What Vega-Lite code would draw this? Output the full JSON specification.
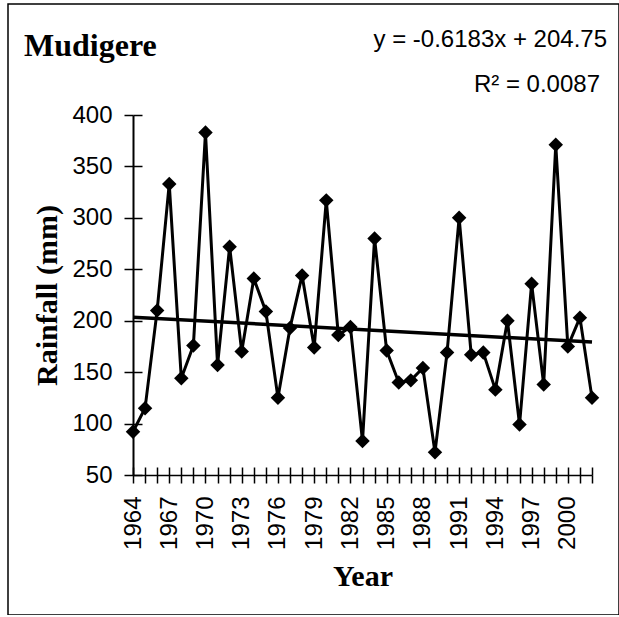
{
  "$schema": "https://vega.github.io/schema/vega-lite/v6.json",
  "autosize": {"type": "none"},
  "padding": {"left": 8, "top": 4, "right": 0, "bottom": 0},
  "width": 611,
  "height": 611,
  "background": "white",
  "config": {
    "view": {"stroke": "black", "strokeWidth": 1.5},
    "axis": {
      "grid": false,
      "domainColor": "black",
      "domainWidth": 2,
      "tickColor": "black",
      "tickWidth": 1.5,
      "labelColor": "black",
      "labelFont": "Liberation Sans",
      "labelFontSize": 24,
      "titleColor": "black",
      "titleFont": "Liberation Serif",
      "titleFontWeight": "bold",
      "titleFontSize": 30
    }
  },
  "title": {
    "text": "Mudigere",
    "anchor": "start",
    "frame": "group",
    "offset": -84,
    "dx": 16,
    "font": "Liberation Serif",
    "fontSize": 32,
    "fontWeight": "bold",
    "color": "black",
    "baseline": "alphabetic"
  },
  "data": {
    "values": [
      {"Year": 1964, "Rainfall": 92},
      {"Year": 1965, "Rainfall": 115},
      {"Year": 1966, "Rainfall": 210},
      {"Year": 1967, "Rainfall": 333},
      {"Year": 1968, "Rainfall": 144},
      {"Year": 1969, "Rainfall": 176},
      {"Year": 1970, "Rainfall": 383},
      {"Year": 1971, "Rainfall": 157},
      {"Year": 1972, "Rainfall": 272},
      {"Year": 1973, "Rainfall": 170},
      {"Year": 1974, "Rainfall": 241},
      {"Year": 1975, "Rainfall": 209},
      {"Year": 1976, "Rainfall": 125},
      {"Year": 1977, "Rainfall": 193},
      {"Year": 1978, "Rainfall": 244},
      {"Year": 1979, "Rainfall": 174},
      {"Year": 1980, "Rainfall": 317},
      {"Year": 1981, "Rainfall": 186},
      {"Year": 1982, "Rainfall": 194},
      {"Year": 1983, "Rainfall": 83},
      {"Year": 1984, "Rainfall": 280},
      {"Year": 1985, "Rainfall": 171},
      {"Year": 1986, "Rainfall": 140},
      {"Year": 1987, "Rainfall": 142},
      {"Year": 1988, "Rainfall": 154},
      {"Year": 1989, "Rainfall": 72},
      {"Year": 1990, "Rainfall": 169},
      {"Year": 1991, "Rainfall": 300},
      {"Year": 1992, "Rainfall": 167},
      {"Year": 1993, "Rainfall": 169},
      {"Year": 1994, "Rainfall": 133},
      {"Year": 1995, "Rainfall": 200},
      {"Year": 1996, "Rainfall": 99},
      {"Year": 1997, "Rainfall": 236},
      {"Year": 1998, "Rainfall": 138},
      {"Year": 1999, "Rainfall": 371},
      {"Year": 2000, "Rainfall": 175},
      {"Year": 2001, "Rainfall": 203},
      {"Year": 2002, "Rainfall": 125}
    ]
  },
  "layer": [
    {
      "mark": {"type": "line", "interpolate": "linear", "color": "black", "strokeWidth": 3},
      "encoding": {
        "x": {
          "field": "Year", "type": "quantitative",
          "scale": {"domain": [1964, 2002], "range": [125, 584], "nice": false, "zero": false},
          "axis": {
            "orient": "bottom", "offset": -140, "title": "Year", "titlePadding": 12,
            "values": [1964,1965,1966,1967,1968,1969,1970,1971,1972,1973,1974,1975,1976,1977,1978,1979,1980,1981,1982,1983,1984,1985,1986,1987,1988,1989,1990,1991,1992,1993,1994,1995,1996,1997,1998,1999,2000,2001,2002],
            "labelExpr": "(datum.value - 1964) % 3 == 0 && datum.value <= 2000 ? datum.value + '' : ''",
            "labelAngle": -90, "labelOverlap": false, "labelFlush": false,
            "tickSize": 8, "labelPadding": 13, "domainWidth": 1.5
          }
        },
        "y": {
          "field": "Rainfall", "type": "quantitative",
          "scale": {"domain": [50, 400], "range": [471, 111], "nice": false, "zero": false},
          "axis": {
            "orient": "left", "offset": -125, "title": "Rainfall (mm)", "titlePadding": 9,
            "values": [50, 100, 150, 200, 250, 300, 350, 400],
            "tickSize": 9, "labelPadding": 12, "labelFlush": false, "labelOverlap": false
          }
        }
      }
    },
    {
      "mark": {"type": "point", "shape": "diamond", "filled": true, "color": "black", "opacity": 1, "size": 210},
      "encoding": {
        "x": {
          "field": "Year", "type": "quantitative",
          "scale": {"domain": [1964, 2002], "range": [125, 584], "nice": false, "zero": false},
          "axis": {
            "orient": "top", "offset": -471, "title": null, "labels": false, "domain": false,
            "values": [1964,1965,1966,1967,1968,1969,1970,1971,1972,1973,1974,1975,1976,1977,1978,1979,1980,1981,1982,1983,1984,1985,1986,1987,1988,1989,1990,1991,1992,1993,1994,1995,1996,1997,1998,1999,2000,2001,2002],
            "tickSize": 8
          }
        },
        "y": {
          "field": "Rainfall", "type": "quantitative",
          "scale": {"domain": [50, 400], "range": [471, 111], "nice": false, "zero": false},
          "axis": {
            "orient": "right", "offset": -486, "title": null, "labels": false, "domain": false,
            "values": [50, 100, 150, 200, 250, 300, 350, 400],
            "tickSize": 9
          }
        }
      }
    },
    {
      "transform": [{"regression": "Rainfall", "on": "Year", "extent": [1964, 2002]}],
      "mark": {"type": "line", "color": "black", "strokeWidth": 3.5},
      "encoding": {
        "x": {"field": "Year", "type": "quantitative", "scale": {"domain": [1964, 2002], "range": [125, 584], "nice": false, "zero": false}, "axis": null},
        "y": {"field": "Rainfall", "type": "quantitative", "scale": {"domain": [50, 400], "range": [471, 111], "nice": false, "zero": false}, "axis": null}
      }
    },
    {
      "data": {"values": [{"label": "y = -0.6183x + 204.75"}]},
      "mark": {"type": "text", "font": "Liberation Sans", "fontSize": 24, "color": "black", "align": "right", "baseline": "alphabetic", "dx": 15},
      "encoding": {
        "text": {"field": "label"},
        "x": {"datum": 2002, "type": "quantitative", "scale": {"domain": [1964, 2002], "range": [125, 584], "nice": false, "zero": false}, "axis": null},
        "y": {"datum": 466, "type": "quantitative", "scale": {"domain": [50, 400], "range": [471, 111], "nice": false, "zero": false}, "axis": null}
      }
    },
    {
      "data": {"values": [{"label": "R² = 0.0087"}]},
      "mark": {"type": "text", "font": "Liberation Sans", "fontSize": 24, "color": "black", "align": "right", "baseline": "alphabetic", "dx": 8},
      "encoding": {
        "text": {"field": "label"},
        "x": {"datum": 2002, "type": "quantitative", "scale": {"domain": [1964, 2002], "range": [125, 584], "nice": false, "zero": false}, "axis": null},
        "y": {"datum": 422, "type": "quantitative", "scale": {"domain": [50, 400], "range": [471, 111], "nice": false, "zero": false}, "axis": null}
      }
    }
  ],
  "resolve": {"axis": {"x": "independent", "y": "independent"}}
}
